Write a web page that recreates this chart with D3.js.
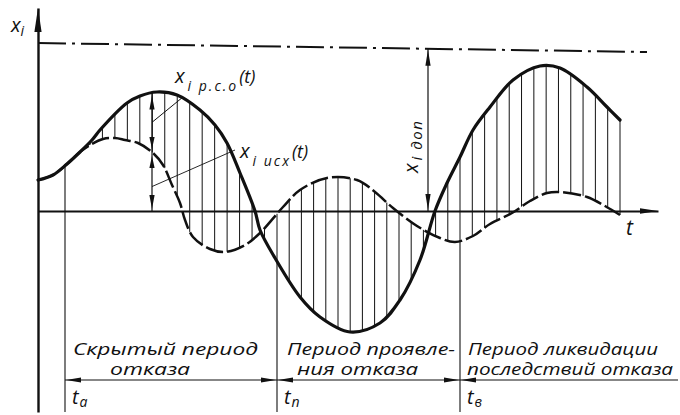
<!DOCTYPE html>
<html>
<head>
<meta charset="utf-8">
<script src="https://cdn.jsdelivr.net/npm/d3@7"></script>
<style>
  html, body { margin: 0; padding: 0; background: #fff; }
  text { font-family: "Open Sans", "DejaVu Sans", sans-serif; font-style: italic; fill: #111; }
</style>
</head>
<body>
<svg id="chart" width="680" height="415"></svg>
<script>
// Working-state signal x_i р.с.о(t)
const signalTimes  = [0, 1.5, 2.9, 4.2, 5.4, 6.2, 8.9, 10.2, 11.9, 13.9, 16.2, 17.7, 18.9, 20.2, 21.7, 22.2, 23.7, 26.2, 28.2, 31.2, 34.2, 36.2, 38.2, 39.7, 40.9, 42.2, 43.5, 45.2, 47.5, 50.2, 52.2, 54.9, 56.9, 58.2];
const signalValues = [3.1, 3.6, 4.7, 5.9, 7.1, 8.1, 10.8, 11.5, 11.9, 11.6, 10.1, 8.6, 6.8, 3.8, 0, -1.9, -4.7, -8.6, -10.6, -12.1, -11.2, -8.9, -4.9, 0, 2.8, 5.4, 8.1, 10.4, 13.1, 14.5, 14.3, 12.4, 10.4, 9.1];

// Initial (reference) signal x_i исх(t)
const baseTimes  = [0, 1.5, 2.9, 4.2, 5.2, 6.5, 7.7, 8.7, 10.0, 11.5, 12.5, 13.4, 14.2, 14.7, 15.5, 17.2, 18.7, 20.7, 22.2, 24.5, 26.2, 28.9, 31.9, 33.7, 35.5, 37.9, 40.2, 41.7, 43.5, 45.2, 47.4, 49.2, 50.9, 52.2, 54.9, 56.7, 58.2];
const baseValues = [3.1, 3.6, 4.7, 5.9, 6.6, 7.2, 7.3, 7.1, 6.8, 5.8, 4.6, 2.6, 0.8, -0.9, -2.6, -3.8, -4.1, -3.4, -2.2, 0.4, 2.1, 3.3, 3.1, 1.9, 0.3, -1.5, -2.7, -3.1, -2.5, -1.3, -0.2, 1.0, 1.8, 1.9, 1.4, 0.5, -0.4];

// Permissible level x_i доп (drawn from the axis to the right edge)
const dopTimes  = [0, 60.9];
const dopValues = [16.8, 15.9];

// Characteristic moments t_а, t_п, t_в and end of observation
const momentTimes  = [2.7, 23.9, 42.2];
const momentLabels = ["а", "п", "в"];
const endTime = 58.2;

// Period captions (two lines each)
const periodLines1 = ["Скрытый период", "Период проявле-", "Период ликвидации"];
const periodLines2 = ["отказа", "ния отказа", "последствий отказа"];

// Dimension positions
const dopArrowTime = 39.0;
const diffArrowTime = 11.4;

const svg = d3.select("#chart");
const x = d3.scaleLinear().domain([0, 62]).range([38, 658]);
const y = d3.scaleLinear().domain([-20.1, 20.3]).range([412, 8]);
const ink = "#111";

function arrowHead(g, px, py, dir, len = 14, half = 2.6) {
  // dir: "up" | "down" | "left" | "right"; (px,py) is the tip
  let pts;
  if (dir === "up")    pts = [[px, py], [px - half, py + len], [px + half, py + len]];
  if (dir === "down")  pts = [[px, py], [px - half, py - len], [px + half, py - len]];
  if (dir === "left")  pts = [[px, py], [px + len, py - half], [px + len, py + half]];
  if (dir === "right") pts = [[px, py], [px - len, py - half], [px - len, py + half]];
  g.append("path").attr("d", "M" + pts.join("L") + "Z").attr("fill", ink);
}

// Axes
const xAxis = d3.axisBottom(x).tickValues([]).tickSizeOuter(0);
const gx = svg.append("g").attr("transform", `translate(0,${y(0)})`).call(xAxis);
gx.select(".domain").attr("stroke", ink).attr("stroke-width", 2);
const yAxis = d3.axisLeft(y).tickValues([]).tickSizeOuter(0);
const gy = svg.append("g").attr("transform", `translate(${x(0)},0)`).call(yAxis);
gy.select(".domain").attr("stroke", ink).attr("stroke-width", 2.4);
arrowHead(svg, x(62), y(0), "right", 18, 2.8);
arrowHead(svg, x(0), y(20.3), "up", 24, 3.6);

// Permissible level, dash-dot
const line = d3.line().x(d => x(d[0])).y(d => y(d[1]));
svg.append("path")
  .attr("d", line(d3.zip(dopTimes, dopValues)))
  .attr("fill", "none").attr("stroke", ink).attr("stroke-width", 2)
  .attr("stroke-dasharray", "28,6,3,6");

const hatchG = svg.append("g");

const curve = d3.line().x(d => x(d[0])).y(d => y(d[1])).curve(d3.curveCatmullRom.alpha(0.5));
const basePath = svg.append("path")
  .attr("d", curve(d3.zip(baseTimes, baseValues)))
  .attr("fill", "none").attr("stroke", ink).attr("stroke-width", 2.5)
  .attr("stroke-dasharray", "18,4");
const sigPath = svg.append("path")
  .attr("d", curve(d3.zip(signalTimes, signalValues)))
  .attr("fill", "none").attr("stroke", ink).attr("stroke-width", 3.2)
  .attr("stroke-linecap", "round");

function yOnPath(node, px) {
  let lo = 0, hi = node.getTotalLength();
  for (let i = 0; i < 40; i++) {
    const mid = (lo + hi) / 2;
    if (node.getPointAtLength(mid).x < px) lo = mid; else hi = mid;
  }
  return node.getPointAtLength((lo + hi) / 2).y;
}

// Vertical hatching between the two signals, evenly spaced inside each period
const bounds = momentTimes.concat([endTime]);
const hatchTimes = [];
for (let i = 0; i < bounds.length - 1; i++) {
  const a = bounds[i], b = bounds[i + 1];
  const n = Math.round((b - a) / 1.24);
  for (let k = 0; k < n; k++) hatchTimes.push(a + (b - a) * k / n);
}
hatchTimes.push(endTime);
hatchTimes.forEach(t => {
  const px = x(t);
  const y1 = yOnPath(sigPath.node(), px), y2 = yOnPath(basePath.node(), px);
  hatchG.append("line").attr("x1", px).attr("x2", px).attr("y1", y1).attr("y2", y2)
    .attr("stroke", ink).attr("stroke-width", 1);
});

// Moment lines down to the bottom
momentTimes.forEach((t, i) => {
  const px = x(t);
  const yLow = Math.max(yOnPath(sigPath.node(), px), yOnPath(basePath.node(), px));
  svg.append("line").attr("x1", px).attr("x2", px).attr("y1", yLow).attr("y2", y(-20.1))
    .attr("stroke", ink).attr("stroke-width", 1.1);
  const lbl = svg.append("text").attr("x", px + 7).attr("y", 404).attr("font-size", 20);
  lbl.append("tspan").text("t");
  lbl.append("tspan").attr("font-size", 14).attr("dy", 3).attr("dx", 1).text(momentLabels[i]);
});

// Period arrows
const arrowY = 380;
const segs = [[momentTimes[0], momentTimes[1]], [momentTimes[1], momentTimes[2]]];
segs.forEach(([a, b]) => {
  svg.append("line").attr("x1", x(a)).attr("x2", x(b)).attr("y1", arrowY).attr("y2", arrowY)
    .attr("stroke", ink).attr("stroke-width", 1.1);
  arrowHead(svg, x(a) + 1, arrowY, "left", 15, 2.4);
  arrowHead(svg, x(b) - 1, arrowY, "right", 15, 2.4);
});
svg.append("line").attr("x1", x(momentTimes[2])).attr("x2", 678).attr("y1", arrowY).attr("y2", arrowY)
  .attr("stroke", ink).attr("stroke-width", 1.1);
arrowHead(svg, x(momentTimes[2]) + 1, arrowY, "left", 15, 2.4);

// Period captions
const cap1X = [x(momentTimes[0]) + 8, x(momentTimes[1]) + 10, x(momentTimes[2]) + 8];
const cap1W = [185, 168, 190];
const cap2X = [x(momentTimes[0]) + 45, x(momentTimes[1]) + 20, x(momentTimes[2]) + 7];
const cap2W = [80, 121, 206];
periodLines1.forEach((s, i) => {
  svg.append("text").attr("x", cap1X[i]).attr("y", 355).attr("font-size", 16)
    .attr("textLength", cap1W[i]).attr("lengthAdjust", "spacingAndGlyphs").text(s);
  svg.append("text").attr("x", cap2X[i]).attr("y", 375).attr("font-size", 16)
    .attr("textLength", cap2W[i]).attr("lengthAdjust", "spacingAndGlyphs").text(periodLines2[i]);
});

// x_i доп dimension
{
  const px = x(dopArrowTime);
  const top = y(dopValues[0] + (dopValues[1] - dopValues[0]) * dopArrowTime / dopTimes[1]);
  svg.append("line").attr("x1", px).attr("x2", px).attr("y1", top).attr("y2", y(0))
    .attr("stroke", ink).attr("stroke-width", 1.2);
  arrowHead(svg, px, top + 1, "up", 16, 2.6);
  arrowHead(svg, px, y(0) - 1, "down", 16, 2.6);
  const t = svg.append("text").attr("transform", `translate(${px - 10},173) rotate(-90)`).attr("font-size", 20);
  t.append("tspan").text("x");
  t.append("tspan").attr("font-size", 15).attr("dy", 4).attr("dx", 3).attr("letter-spacing", 1.5).text("i доп");
}

// Difference and base-level dimensions
{
  const px = x(diffArrowTime);
  const ySig = yOnPath(sigPath.node(), px), yBase = yOnPath(basePath.node(), px);
  svg.append("line").attr("x1", px).attr("x2", px).attr("y1", ySig).attr("y2", y(0))
    .attr("stroke", ink).attr("stroke-width", 1.2);
  arrowHead(svg, px, ySig + 3, "up", 14, 2.6);
  arrowHead(svg, px, yBase - 3, "down", 12, 2.6);
  arrowHead(svg, px, yBase + 4, "up", 12, 2.6);
  arrowHead(svg, px, y(0) - 2, "down", 14, 2.6);

  // leader for x_i р.с.о(t)
  svg.append("line").attr("x1", px).attr("y1", (ySig + yBase) / 2)
    .attr("x2", x(14.5)).attr("y2", y(11.4)).attr("stroke", ink).attr("stroke-width", 1);
  // leader for x_i исх(t)
  svg.append("line").attr("x1", px).attr("y1", (yBase + y(0)) / 2 + 5)
    .attr("x2", x(19.7)).attr("y2", y(6.1)).attr("stroke", ink).attr("stroke-width", 0.9);
}

function curveLabel(px, py, sub) {
  const t = svg.append("text").attr("x", px).attr("y", py).attr("font-size", 20);
  t.append("tspan").text("x");
  t.append("tspan").attr("font-size", 14).attr("dy", 8).attr("dx", 3)
    .attr("letter-spacing", 2).text(sub);
  t.append("tspan").attr("font-size", 18).attr("dy", -8).attr("dx", 1).text("(t)");
}
curveLabel(x(13.7), 83, "i р.с.о");
curveLabel(x(20.2), 158, "i исх");

// Axis names
{
  const t = svg.append("text").attr("x", 11).attr("y", 32).attr("font-size", 20);
  t.append("tspan").text("x");
  t.append("tspan").attr("font-size", 14).attr("dy", 4).text("i");
}
svg.append("text").attr("x", 626).attr("y", 235).attr("font-size", 21).text("t");
</script>
</body>
</html>
